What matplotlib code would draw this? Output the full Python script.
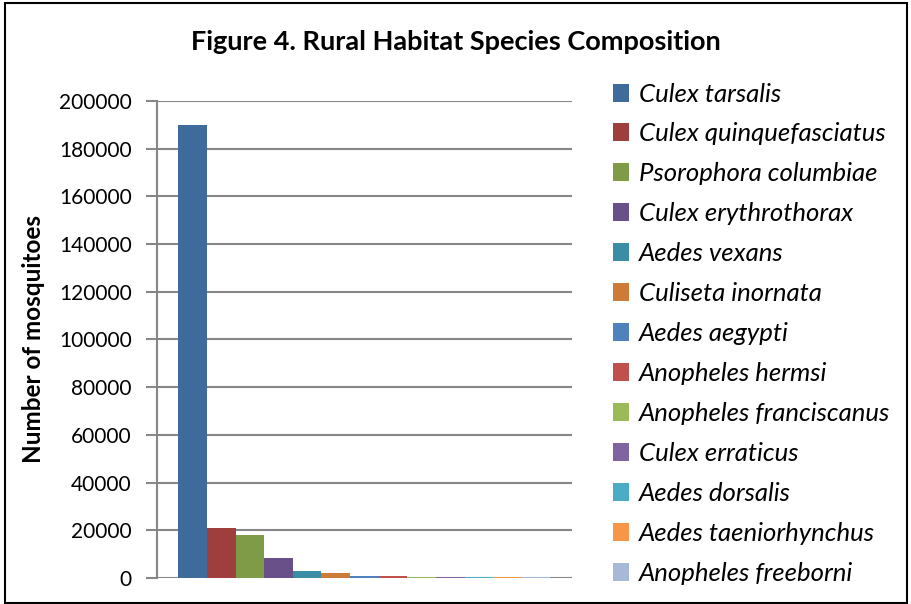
import matplotlib.pyplot as plt
from matplotlib.patches import Rectangle

species = [
    "Culex tarsalis", "Culex quinquefasciatus", "Psorophora columbiae",
    "Culex erythrothorax", "Aedes vexans", "Culiseta inornata",
    "Aedes aegypti", "Anopheles hermsi", "Anopheles franciscanus",
    "Culex erraticus", "Aedes dorsalis", "Aedes taeniorhynchus",
    "Anopheles freeborni",
]
counts = [190000, 21000, 18000, 8500, 3100, 2200, 1000, 900, 600, 550, 550, 500, 500]
colors = [
    "#3E6A9C", "#9E3F3E", "#809B48", "#6A5088", "#3A8DA5", "#CD7B36",
    "#4F81BD", "#C0504D", "#9BBB59", "#8064A2", "#4BACC6", "#F79646",
    "#A8B9D8",
]
yticks = list(range(0, 200001, 20000))

plt.rcParams["font.family"] = ["Lato", "DejaVu Sans"]

fig = plt.figure(figsize=(9.12, 6.04), dpi=100)
fig.patches.append(Rectangle((0.006, 0.002), 0.988, 0.993, transform=fig.transFigure,
                             fill=False, edgecolor="black", linewidth=1.5))
ax = fig.add_axes([0.172, 0.043, 0.455, 0.79])

n = len(species)
for i, (name, val, col) in enumerate(zip(species, counts, colors)):
    ax.bar(i - (n - 1) / 2, val, width=1.0, color=col, label=name, zorder=3)

ax.set_xlim(-7.25, 7.25)
ax.set_ylim(0, 200000)
ax.set_yticks(yticks)
ax.set_yticklabels([str(t) for t in yticks], fontsize=15)
ax.set_xticks([])
ax.grid(axis="y", color="#868686", linewidth=1.5, zorder=0)
for s in ["top", "right", "bottom"]:
    ax.spines[s].set_visible(False)
ax.spines["left"].set_color("#868686")
ax.spines["left"].set_linewidth(1.5)
ax.tick_params(axis="y", length=8, width=1.5, color="#868686", pad=10)
ax.set_ylabel("Number of mosquitoes", fontsize=17.5, fontweight="bold", labelpad=10)

fig.suptitle("Figure 4. Rural Habitat Species Composition", x=0.5, y=0.95,
             fontsize=19.5, fontweight="bold")

leg = ax.legend(loc="upper left", bbox_to_anchor=(1.075, 1.06), frameon=False,
                prop={"size": 18.5, "style": "italic"}, handlelength=0.6,
                handleheight=0.7, handletextpad=0.4, labelspacing=0.66,
                borderaxespad=0)

fig.savefig("out.png", dpi=100)
